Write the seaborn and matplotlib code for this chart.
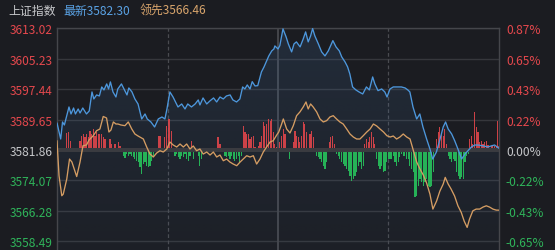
import numpy as np
import matplotlib
matplotlib.use("Agg")
import matplotlib.pyplot as plt
from matplotlib.patches import Polygon
from matplotlib.colors import to_rgb
import seaborn as sns

# ---------------- data ----------------
base_price = 3581.86
title_name = "上证指数"
latest_label = "最新3582.30"
lead_label = "领先3566.46"

left_ticks = [3613.02, 3605.23, 3597.44, 3589.65, 3581.86, 3574.07, 3566.28, 3558.49]
left_tick_labels = ["3613.02", "3605.23", "3597.44", "3589.65", "3581.86", "3574.07", "3566.28", "3558.49"]
right_tick_labels = ["0.87%", "0.65%", "0.43%", "0.22%", "0.00%", "-0.22%", "-0.43%", "-0.65%"]

blue_min = [0, 2, 3, 4, 6.5, 7.6, 9, 10, 11.5, 12.5,
            14, 16, 17.5, 19, 20, 21.5, 23, 24.3, 25.5, 27,
            28, 29, 30.4, 32, 33, 35, 36.4, 38, 39, 40.7,
            42.3, 44, 46, 47.8, 49, 51, 53, 55, 57, 58.6,
            59.7, 61.3, 63, 65.7, 67.7, 69.5, 71, 73, 75, 76.7,
            77.6, 79.3, 81.3, 83, 85, 86.7, 88.5, 90.3, 92, 94,
            95.5, 97.5, 99.3, 100.8, 102, 103.3, 104.8, 106, 107.5, 109,
            111, 112.4, 113.8, 115, 116.6, 117.8, 118.3, 120, 121, 122.7,
            124.4, 125.6, 127.4, 128.7, 130, 132, 133.7, 135, 136.4, 137.7,
            138.8, 140, 141.9, 143.7, 145.5, 147.3, 149, 149.8, 151.5, 153.3,
            154.6, 156.4, 157.8, 159, 160.5, 162.3, 164, 166, 168, 169.6,
            171.4, 172.6, 174.3, 176.3, 178, 179.2, 180.8, 182.6, 184.4, 187,
            189, 190.5, 191.6, 193.3, 195.3, 197, 198.7, 200.7, 202.5, 204,
            206, 208, 209.7, 211, 212.4, 214.3, 216, 217.7, 219.7, 221.5,
            223, 225, 226.8, 228.6, 231.8, 234, 235.6, 237.6, 240]
blue_price = [3588.78, 3584.68, 3589.04, 3588.27, 3592.88, 3591.09, 3592.62, 3591.09, 3592.37, 3591.34,
              3592.62, 3591.09, 3591.86, 3596.73, 3594.93, 3595.96, 3595.70, 3598.01, 3597.24, 3598.78,
              3597.49, 3599.29, 3596.73, 3595.44, 3597.49, 3598.78, 3597.49, 3595.96, 3597.75, 3596.73,
              3594.93, 3593.65, 3589.81, 3591.09, 3589.81, 3589.04, 3587.76, 3589.81, 3590.32, 3589.81,
              3592.37, 3596.73, 3595.44, 3592.88, 3593.65, 3592.37, 3593.65, 3592.88, 3593.65, 3594.68,
              3593.40, 3595.19, 3593.65, 3594.42, 3595.19, 3594.16, 3595.44, 3594.93, 3595.70, 3595.96,
              3594.68, 3594.16, 3594.93, 3598.01, 3597.49, 3598.52, 3597.49, 3599.37, 3598.26, 3598.34,
              3601.85, 3603.13, 3604.67, 3605.95, 3607.23, 3607.74, 3608.51, 3607.74, 3608.59, 3612.87,
              3610.82, 3609.03, 3606.98, 3609.03, 3609.54, 3608.26, 3610.31, 3612.10, 3609.54, 3611.08,
              3612.95, 3611.08, 3609.03, 3606.98, 3605.95, 3607.23, 3609.03, 3609.87, 3608.26, 3607.23,
              3605.70, 3604.41, 3603.13, 3601.34, 3598.01, 3597.24, 3596.73, 3596.21, 3598.01, 3597.24,
              3600.57, 3598.78, 3597.06, 3597.49, 3596.73, 3595.44, 3597.49, 3598.01, 3598.01, 3598.01,
              3597.75, 3597.24, 3596.73, 3592.88, 3589.81, 3591.09, 3587.76, 3584.68, 3582.12, 3579.55,
              3581.35, 3584.68, 3587.76, 3589.04, 3587.24, 3585.96, 3584.17, 3582.12, 3579.55, 3580.83,
              3581.60, 3582.63, 3583.14, 3583.14, 3582.89, 3582.63, 3582.89, 3583.14, 3582.30]

orange_min = [0, 1.1, 2.6, 3.4, 5.3, 6.8, 8.1, 10.7, 12.5, 14.1,
              16, 17.4, 19.7, 21.5, 23.3, 25.1, 26.9, 28.2, 29.3, 30.6,
              32, 33.1, 34.7, 36.9, 38.7, 40.6, 42.3, 44, 45, 46.9,
              48.7, 50.5, 52.3, 54.1, 55.9, 57.7, 59.6, 61.3, 63.1, 65,
              66.8, 68.6, 70.4, 72.2, 74, 75.8, 77.6, 79.4, 81.3, 83.1,
              84.9, 86.7, 88.5, 90.3, 92.1, 93.9, 95.7, 97.6, 99.4, 101.1,
              103, 104.8, 106.6, 108.4, 110.2, 112, 113.8, 115.7, 117.4, 119.3,
              120.4, 121.6, 122.9, 124.7, 126.5, 128.3, 130.1, 131.9, 133.7, 135.2,
              136.4, 137.7, 139.1, 141, 142.8, 144.6, 146.4, 148.2, 150, 151.8,
              153.6, 155.4, 157.3, 159.1, 160.9, 162.7, 164.5, 166.3, 168.2, 170,
              171.8, 173.6, 175.4, 177.3, 179.1, 180.9, 182.6, 184.4, 186.2, 188,
              189.9, 191.7, 193.5, 195.3, 197.1, 198.9, 200.7, 202.5, 204.1, 206.1,
              207.9, 209.7, 210.8, 212.4, 214, 215.9, 217.7, 219.5, 221.1, 222.7,
              224, 225.8, 227.6, 229.5, 231.3, 233.1, 234.9, 236.7, 238.5, 240]
orange_price = [3584.24, 3575.27, 3570.15, 3570.58, 3574.43, 3579.55, 3578.78, 3575.07, 3578.78, 3582.96,
                3583.14, 3584.42, 3585.53, 3586.81, 3587.24, 3590.45, 3590.06, 3586.47, 3586.99, 3589.04,
                3588.52, 3588.52, 3588.27, 3588.09, 3589.04, 3587.24, 3585.96, 3585.45, 3585.19, 3584.68,
                3582.63, 3580.83, 3580.07, 3581.09, 3581.68, 3581.35, 3582.12, 3583.91, 3583.14, 3582.63,
                3583.40, 3582.63, 3583.40, 3582.12, 3582.89, 3581.68, 3582.12, 3580.83, 3581.35, 3580.58,
                3581.35, 3580.07, 3580.58, 3579.12, 3579.55, 3578.78, 3578.27, 3577.84, 3578.78, 3579.55,
                3580.40, 3580.07, 3580.40, 3578.27, 3579.55, 3581.35, 3582.63, 3583.91, 3584.24, 3585.70,
                3586.47, 3588.01, 3589.81, 3587.24, 3586.22, 3588.09, 3590.65, 3591.60, 3592.88, 3594.16,
                3592.37, 3593.65, 3592.88, 3591.60, 3589.81, 3589.04, 3589.37, 3590.32, 3590.65, 3589.81,
                3589.04, 3588.52, 3587.24, 3585.96, 3585.19, 3584.68, 3584.68, 3585.53, 3586.47, 3587.24,
                3588.52, 3588.01, 3587.24, 3586.47, 3585.53, 3585.19, 3585.45, 3584.68, 3585.19, 3585.96,
                3585.19, 3584.68, 3581.68, 3578.78, 3576.99, 3575.45, 3573.40, 3570.58, 3566.74, 3568.79,
                3571.35, 3573.15, 3574.86, 3573.15, 3571.86, 3570.07, 3567.58, 3565.89, 3563.66, 3562.05,
                3564.17, 3566.30, 3566.74, 3566.74, 3567.25, 3567.58, 3567.25, 3566.74, 3566.48, 3566.46]

bar_min = [5.3, 6.1, 7.1, 10.0, 12.5, 13.4, 14.3, 15.2, 16.1, 17.0,
           17.9, 18.8, 19.7, 20.6, 21.5, 22.4, 23.3, 24.3, 25.1, 26.1,
           28.8, 29.7, 31.5, 33.3, 34.2, 36.0, 36.9, 37.8, 38.7, 39.6,
           40.6, 41.4, 42.3, 43.3, 44.1, 45.1, 46.0, 46.9, 47.8, 48.7,
           49.6, 50.5, 51.4, 52.3, 55.0, 55.9, 58.6, 59.6, 60.4, 61.3,
           62.3, 64.1, 65.0, 65.9, 66.8, 67.7, 68.6, 69.5, 70.4, 71.3,
           72.2, 73.1, 74.0, 76.7, 77.6, 78.6, 87.4, 88.5, 90.3, 91.2,
           92.1, 93.0, 93.9, 94.8, 95.7, 96.6, 97.6, 98.4, 99.3, 100.1,
           101.1, 102.1, 103.0, 103.9, 104.8, 105.7, 106.6, 107.5, 109.3, 110.2,
           111.1, 112.0, 112.9, 113.8, 114.7, 115.7, 116.6, 117.4, 118.3, 119.3,
           121.0, 122.0, 122.9, 123.8, 126.1, 128.3, 129.2, 130.1, 131.0, 131.9,
           132.8, 133.7, 134.6, 135.6, 136.4, 137.4, 138.3, 139.1, 141.0, 141.9,
           142.8, 143.7, 144.6, 145.5, 146.4, 147.8, 148.7, 149.7, 150.5, 151.8,
           152.7, 153.6, 154.6, 155.4, 156.4, 157.3, 158.1, 159.1, 160.0, 160.9,
           161.8, 162.7, 163.6, 164.5, 165.4, 166.3, 167.2, 168.1, 169.0, 169.9,
           170.8, 171.7, 172.6, 173.6, 174.5, 175.4, 176.3, 177.2, 178.1, 179.0,
           179.9, 180.8, 181.7, 182.6, 183.5, 184.4, 185.3, 186.2, 187.1, 188.0,
           188.9, 189.8, 190.7, 191.6, 192.6, 193.5, 194.4, 195.3, 196.1, 197.1,
           198.0, 198.9, 199.8, 200.7, 201.6, 202.5, 203.4, 204.3, 206.1, 207.0,
           207.9, 208.8, 209.7, 210.6, 211.6, 212.4, 213.4, 214.3, 215.1, 216.1,
           217.0, 217.9, 218.8, 219.8, 220.6, 221.5, 222.4, 223.3, 224.0, 224.9,
           225.8, 226.8, 227.6, 228.6, 229.5, 230.4, 231.3, 232.2, 233.1, 234.0,
           235.0, 235.8, 236.7, 237.6, 238.5, 239.1, 239.8]
bar_val = [4.36, 4.53, 2.39, -0.34, 2.39, 3.67, 4.10, 3.25, 4.10, 3.25,
           4.95, 4.10, 5.38, 3.67, 4.53, 4.10, 4.10, 4.10, 3.25, 2.82,
           2.82, 1.54, 1.54, 1.96, 1.11, -1.45, -2.14, -1.02, -1.45, -1.02,
           -1.45, -1.88, -2.31, -2.73, -3.16, -4.44, -6.15, -3.59, -3.16, -4.01,
           -4.44, -4.01, -2.73, -1.88, 3.50, 3.67, 3.25, 6.23, 7.94, 7.94,
           4.95, -1.45, -1.02, -1.88, -2.31, -1.45, -1.88, -1.02, -2.31, -2.73,
           -1.45, 2.39, -2.31, -1.45, -4.01, -2.31, 3.25, 1.54, -0.60, -1.45,
           -1.88, -1.45, -2.31, -1.45, -2.31, -2.73, -2.31, -1.45, -3.16, -1.45,
           6.23, 4.53, 4.10, 4.10, 2.82, 3.25, 3.67, 0.68, 1.11, 1.96,
           3.67, 7.09, 6.23, 6.66, 7.94, 7.52, 7.94, 4.53, 1.54, 0.68,
           1.96, 3.67, 5.38, 4.10, -2.31, 1.96, 4.95, 3.67, 3.25, 1.96,
           3.67, 7.09, 6.66, 4.53, -0.60, 4.10, 4.95, 3.25, -1.45, -1.88,
           -2.31, -3.16, -4.01, -4.87, -3.16, 1.96, 3.25, 3.67, 1.54, -1.02,
           -1.45, -2.31, -3.16, -3.59, -4.01, -4.87, -5.30, -6.58, -7.86, -7.43,
           -6.58, -5.72, -4.01, -3.16, -4.87, -4.01, 1.54, 2.82, 1.96, 3.25,
           4.53, 3.25, 1.54, -2.31, -4.01, -4.87, -4.01, -5.72, -5.30, -3.16,
           -2.31, -2.31, -2.31, -1.45, -3.16, -4.01, -3.16, -1.88, -1.02, -1.45,
           -1.45, -2.31, -2.31, -4.01, -4.87, -5.72, -12.13, -11.70, -9.14, -7.43,
           -8.28, -9.14, -8.28, -7.43, -9.14, -9.56, -9.14, -5.72, 2.82, 4.53,
           5.81, 4.10, 3.67, 5.38, 1.54, -1.45, -2.31, -3.16, -2.31, -2.73,
           -5.72, -6.58, -7.43, -7.00, -7.43, -3.16, -1.45, -1.02, 2.82, 3.67,
           1.54, 9.65, 5.81, 4.53, 1.96, 2.39, 1.54, 1.96, 2.39, 1.28,
           -0.60, 0.94, 1.28, 1.11, 0.68, 7.52, 1.11]

assert len(blue_min) == len(blue_price)
assert len(orange_min) == len(orange_price)
assert len(bar_min) == len(bar_val)

# ---------------- style ----------------
BG = "#1b1c21"
GRID = "#36373c"
RED = "#e5484d"
GREEN = "#2fb45a"
GRAY = "#c6c7ca"
BLUE = "#4d97dc"
ORANGE = "#d59d63"
BAR_RED = "#e0464b"
BAR_GREEN = "#27c25c"

sns.set_theme(style="dark")
plt.rcParams["font.family"] = ["Noto Sans CJK SC", "DejaVu Sans"]

fig = plt.figure(figsize=(5.55, 2.51), dpi=100, facecolor=BG)
W, H = 555, 251
x0, x1 = 57, 499
ytop = 29.3
ax = fig.add_axes([x0 / W, 0, (x1 - x0) / W, (H - ytop) / H])
ax.set_facecolor(BG)

ymax = 3613.02
px_per_pt = 30.43 / 7.79
ymin = ymax - (H - ytop) / px_per_pt
ax.set_xlim(0, 240)
ax.set_ylim(ymin, ymax)

# grid lines
for t in left_ticks:
    if abs(t - base_price) < 1e-6:
        ax.axhline(t, color="#3a3b40", lw=2.9, zorder=2.6)
    else:
        ax.axhline(t, color=GRID, lw=1.0, zorder=0.5)
ax.axvline(60, color="#4a4b50", lw=0.9, ls=(0, (3, 2)), zorder=0.5)
ax.axvline(180, color="#4a4b50", lw=0.9, ls=(0, (3, 2)), zorder=0.5)
ax.axvline(120, color="#45464b", lw=1.4, zorder=0.5)

# gradient fill under the latest-price line
ylo = ymin
verts = list(zip(blue_min, blue_price)) + [(240, ylo), (0, ylo)]
poly = Polygon(verts, closed=True, facecolor="none", edgecolor="none")
ax.add_patch(poly)
n = 256
rgba = np.zeros((n, 1, 4))
rgba[..., :3] = to_rgb("#4a7fb8")
rgba[..., 3] = np.linspace(0.04, 0.17, n)[:, None]
im = ax.imshow(rgba, extent=[0, 240, ylo, max(blue_price)], origin="lower",
               aspect="auto", zorder=1, interpolation="bilinear")
im.set_clip_path(poly)

# bars
bar_colors = [BAR_RED if v > 0 else BAR_GREEN for v in bar_val]
ax.bar(bar_min, bar_val, bottom=base_price, width=0.62, color=bar_colors,
       linewidth=0, zorder=2.5, alpha=0.9)

# lines
sns.lineplot(x=blue_min, y=blue_price, ax=ax, color=BLUE, linewidth=0.95, zorder=3)
sns.lineplot(x=orange_min, y=orange_price, ax=ax, color=ORANGE, linewidth=0.95, zorder=3.1)

# spines
for s in ["left", "right", "top"]:
    ax.spines[s].set_visible(True)
    ax.spines[s].set_color("#45464b")
    ax.spines[s].set_linewidth(1.0)
ax.spines["bottom"].set_visible(False)
ax.grid(False)
ax.set_xticks([])
ax.set_xlabel("")
ax.set_ylabel("")

def tick_color(t):
    if t > base_price + 1e-6:
        return RED
    if t < base_price - 1e-6:
        return GREEN
    return GRAY

ax.set_yticks(left_ticks)
ax.set_yticklabels(left_tick_labels, fontsize=8.6)
ax.tick_params(axis="y", length=0, pad=3.2)
for lab, t in zip(ax.get_yticklabels(), left_ticks):
    lab.set_color(tick_color(t))

ax2 = ax.twinx()
ax2.set_ylim(ax.get_ylim())
ax2.set_yticks(left_ticks)
ax2.set_yticklabels(right_tick_labels, fontsize=8.6)
ax2.tick_params(axis="y", length=0, pad=5)
for lab, t in zip(ax2.get_yticklabels(), left_ticks):
    lab.set_color(tick_color(t))
for s in ax2.spines.values():
    s.set_visible(False)
ax2.grid(False)

# header
fig.text(8 / W, 1 - 11 / H, title_name, color=GRAY, fontsize=8.6, va="center", ha="left")
fig.text(63 / W, 1 - 11 / H, latest_label, color="#5aa2e4", fontsize=8.6, va="center", ha="left")
fig.text(140 / W, 1 - 11 / H, lead_label, color="#d9a56c", fontsize=8.6, va="center", ha="left")

fig.savefig("out.png", dpi=100, facecolor=BG)
